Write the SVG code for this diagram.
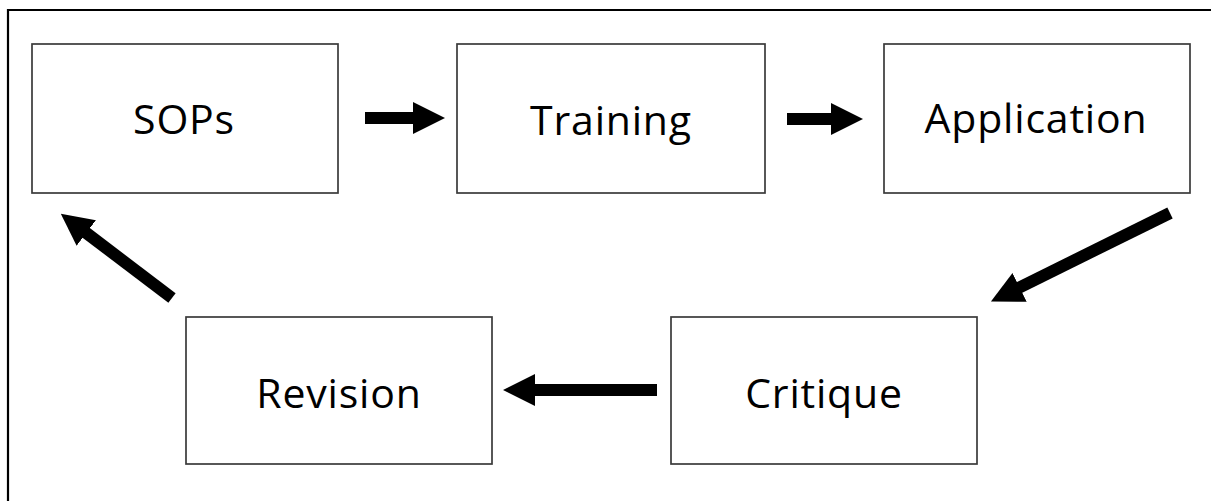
<svg xmlns="http://www.w3.org/2000/svg" width="1211" height="501" viewBox="0 0 1211 501">
  <style>
    .box { fill: #ffffff; stroke: #3a3a3a; stroke-width: 1.7; }
    .label { font-family: "Open Sans", "Liberation Sans", sans-serif; font-size: 41px; fill: #000000; text-anchor: middle; letter-spacing: 0.8px; }
    .conn { stroke: #000000; stroke-width: 12; fill: none; marker-end: url(#head); }
    .frame { stroke: #000000; stroke-width: 2.2; fill: none; }
  </style>
  <defs>
    <marker id="head" markerUnits="userSpaceOnUse" markerWidth="32" markerHeight="32" viewBox="0 0 32 32" refX="1" refY="16" orient="auto">
      <path d="M0,0 L32,16 L0,32 Z" fill="#000000"/>
    </marker>
  </defs>
  <rect x="0" y="0" width="1211" height="501" fill="#ffffff"/>
  <path class="frame" d="M8,501 L8,10 L1211,10"/>

  <g id="node-sops">
    <rect class="box" x="32" y="44" width="306" height="149"/>
    <text class="label" x="184" y="134">SOPs</text>
  </g>
  <g id="node-training">
    <rect class="box" x="457" y="44" width="308" height="149"/>
    <text class="label" x="611" y="135">Training</text>
  </g>
  <g id="node-application">
    <rect class="box" x="884" y="44" width="306" height="149"/>
    <text class="label" x="1036" y="133">Application</text>
  </g>
  <g id="node-revision">
    <rect class="box" x="186" y="317" width="306" height="147"/>
    <text class="label" x="339" y="408">Revision</text>
  </g>
  <g id="node-critique">
    <rect class="box" x="671" y="317" width="306" height="147"/>
    <text class="label" x="824" y="408">Critique</text>
  </g>

  <g id="connectors">
    <line class="conn" x1="365" y1="118" x2="414" y2="118"/>
    <line class="conn" x1="787" y1="119" x2="832" y2="119"/>
    <line class="conn" x1="1170" y1="213" x2="1018.7" y2="287.8"/>
    <line class="conn" x1="657" y1="390" x2="534" y2="390"/>
    <line class="conn" x1="172" y1="298" x2="85.5" y2="232.4"/>
  </g>
</svg>
